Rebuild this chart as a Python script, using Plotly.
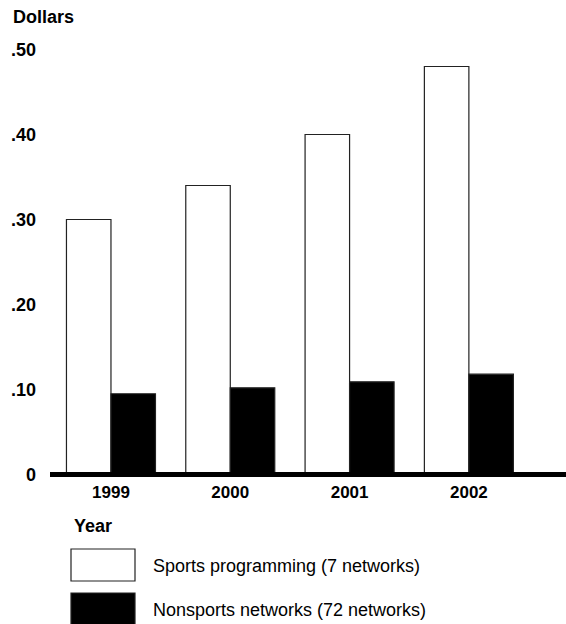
import plotly.graph_objects as go

years = ["1999", "2000", "2001", "2002"]
sports = [0.30, 0.34, 0.40, 0.48]
nonsports = [0.095, 0.102, 0.109, 0.118]
tick_vals = [0, 0.1, 0.2, 0.3, 0.4, 0.5]
tick_text = ["0", ".10", ".20", ".30", ".40", ".50"]
series_names = ["Sports programming (7 networks)", "Nonsports networks (72 networks)"]
series_colors = ["white", "black"]

FONT = "Liberation Sans, Arial, Helvetica, sans-serif"

W, H = 566, 624
ml, mr, mt = 50, 0, 32
bottom = 480          # plot-area bottom (px)
zero_px = 474.5       # pixel row of value 0 (centre of the thick base line)
SCALE = 850           # px per dollar
mb = H - bottom
pw = W - ml - mr
ph = bottom - mt
ymin = -(bottom - zero_px) / SCALE
ymax = ymin + ph / SCALE

fig = go.Figure()
for name, vals, col in zip(series_names, [sports, nonsports], series_colors):
    fig.add_trace(go.Bar(
        x=years, y=vals, name=name,
        marker=dict(color=col, line=dict(color="#222", width=1.2)),
        showlegend=False,
    ))

fig.update_layout(
    width=W, height=H,
    margin=dict(l=ml, r=mr, t=mt, b=mb, pad=0),
    paper_bgcolor="white", plot_bgcolor="white",
    barmode="group", bargap=0.254, bargroupgap=0,
    font=dict(family=FONT, color="black"),
    xaxis=dict(
        type="category", range=[-0.511, 3.814],
        showline=False, ticks="", showgrid=False, zeroline=False,
        tickfont=dict(size=17, weight="bold", family=FONT),
        ticklabelstandoff=0,
    ),
    yaxis=dict(
        range=[ymin, ymax],
        tickvals=tick_vals, ticktext=tick_text,
        showgrid=False, zeroline=False, showline=False, ticks="",
        tickfont=dict(size=18, weight="bold", family=FONT),
        ticklabelstandoff=13,
    ),
)

# thick base line at value 0, drawn over the bars
fig.add_shape(type="line", xref="paper", yref="y", x0=0, x1=1, y0=0, y1=0,
              line=dict(color="black", width=5), layer="above")

def px_x(x):
    return (x - ml) / pw

def px_y(y):
    return (bottom - y) / ph

fig.add_annotation(text="Dollars", xref="paper", yref="paper",
                   x=px_x(11), y=px_y(17), xanchor="left", yanchor="middle",
                   showarrow=False, font=dict(size=18, weight="bold", family=FONT))
fig.add_annotation(text="Year", xref="paper", yref="paper",
                   x=px_x(72), y=px_y(526), xanchor="left", yanchor="middle",
                   showarrow=False, font=dict(size=18, weight="bold", family=FONT))

legend_rows = [(549, 581, 566), (593, 625, 610)]
for (y0, y1, ty), name, col in zip(legend_rows, series_names, series_colors):
    fig.add_shape(type="rect", xref="paper", yref="paper",
                  x0=px_x(71), x1=px_x(135), y0=px_y(y1), y1=px_y(y0),
                  fillcolor=col, line=dict(color="#222", width=1.2))
    fig.add_annotation(text=name, xref="paper", yref="paper",
                       x=px_x(151), y=px_y(ty), xanchor="left", yanchor="middle",
                       showarrow=False, font=dict(size=18, family=FONT))

fig.write_html(
    "out.html",
    config={"displayModeBar": False},
    post_script="document.body.style.margin='0';document.body.style.overflow='hidden';",
)
